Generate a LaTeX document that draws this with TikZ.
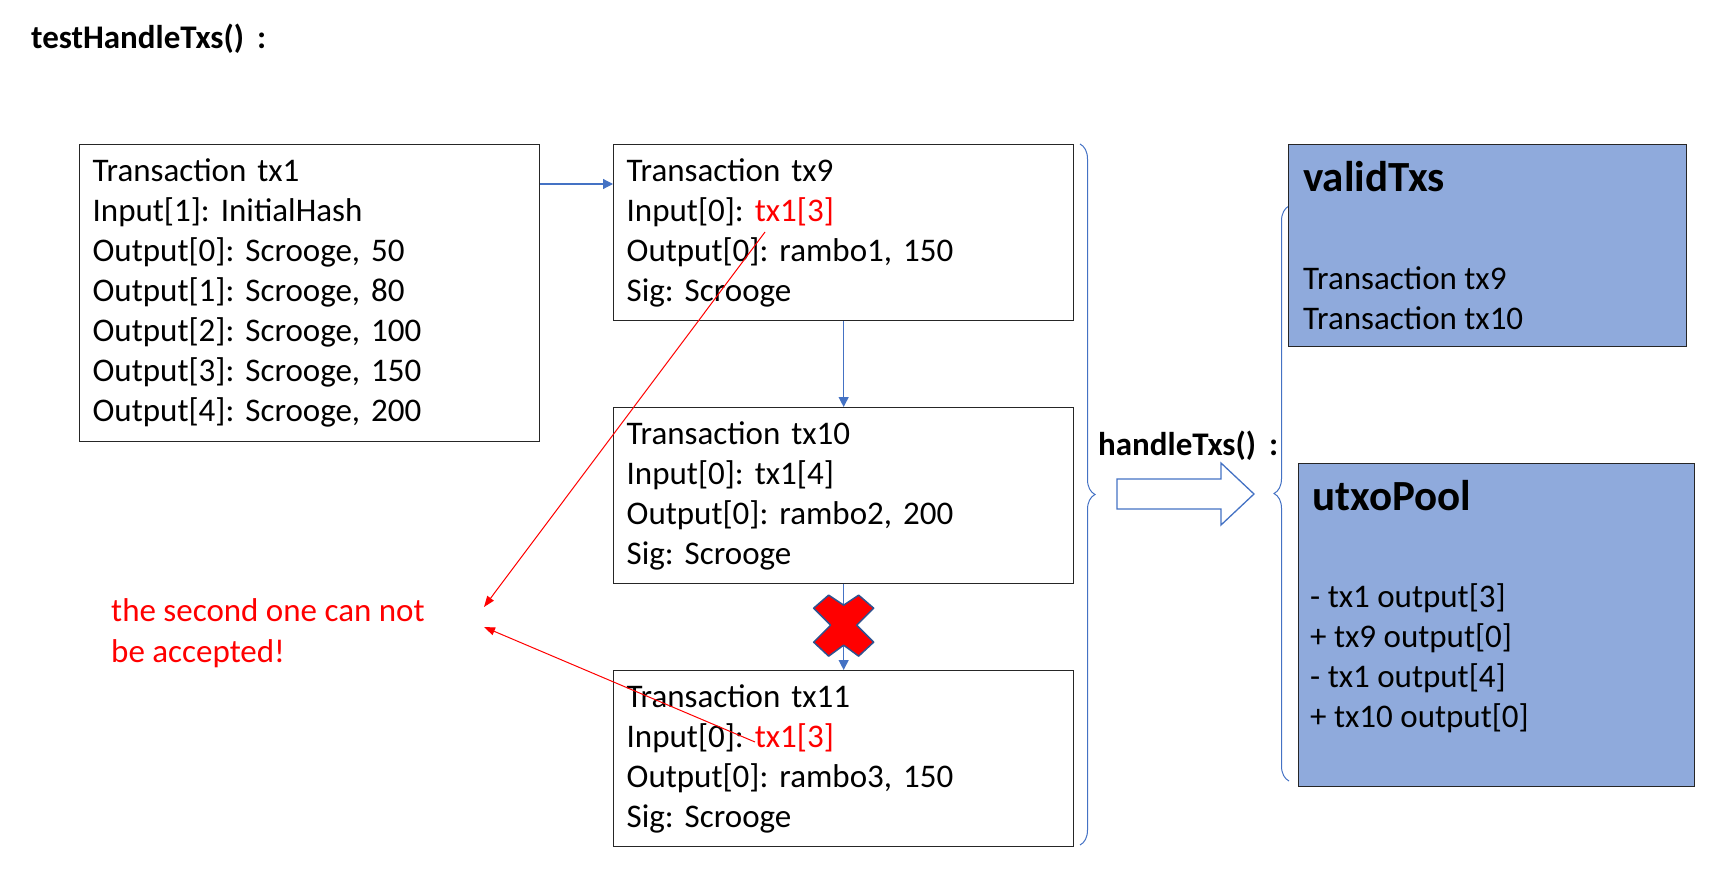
\documentclass[tikz,border=0pt]{standalone}
\usepackage{fontspec}
\setmainfont{Carlito}
\usetikzlibrary{arrows.meta, calc, decorations.pathreplacing}
\definecolor{linkblue}{HTML}{4472C4}
\definecolor{poolblue}{HTML}{8FAADC}
\definecolor{xedge}{HTML}{2F528F}
\definecolor{alert}{HTML}{FF0000}
\tikzset{
  txbox/.style={draw=black!85, line width=1.3pt, fill=white, anchor=north west, align=left,
    minimum width=460pt, text width=434pt, inner xsep=13pt, inner ysep=0pt,
    font=\fontsize{33}{40}\selectfont\frenchspacing},
  setbox/.style={draw=black!85, line width=1.3pt, fill=poolblue, anchor=north west, inner sep=0pt},
  flow/.style={-{Triangle[length=10pt,width=10pt]}, line width=1.2pt, color=linkblue},
  clash/.style={-{Triangle[length=11pt,width=8pt]}, line width=1pt, color=alert},
  group/.style={decorate, decoration={brace, amplitude=15pt}, line width=1pt, color=linkblue},
  heading/.style={font=\bfseries\fontsize{33}{40}\selectfont, anchor=base west, inner sep=0pt},
  settitle/.style={font=\bfseries\fontsize{43}{50}\selectfont, anchor=base west, inner sep=0pt},
  setitems/.style={font=\fontsize{33}{40}\selectfont\frenchspacing, anchor=north west, align=left, inner sep=0pt},
  xmark/.style={fill=alert, draw=xedge, line width=1.5pt, line join=round}
}

\begin{document}
\begin{tikzpicture}[x=1pt, y=-1pt]
\useasboundingbox (0,0) rectangle (1722,880);
\node[heading] (title) at (31,49) {testHandleTxs() \,:};

\node[txbox, minimum height=297pt] (tx1) at (79,144) {Transaction tx1\\Input[1]: InitialHash\\Output[0]: Scrooge, 50\\Output[1]: Scrooge, 80\\Output[2]: Scrooge, 100\\Output[3]: Scrooge, 150\\Output[4]: Scrooge, 200};
\node[txbox, minimum height=176pt] (tx9) at (613,144) {Transaction tx9\\Input[0]: \textcolor{alert}{tx1[3]}\\Output[0]: rambo1, 150\\Sig: Scrooge};
\node[txbox, minimum height=176pt] (tx10) at (613,407) {Transaction tx10\\Input[0]: tx1[4]\\Output[0]: rambo2, 200\\Sig: Scrooge};
\node[txbox, minimum height=176pt] (tx11) at (613,670) {Transaction tx11\\Input[0]: \textcolor{alert}{tx1[3]}\\Output[0]: rambo3, 150\\Sig: Scrooge};

\draw[flow] ([yshift=-40pt]tx1.north east) -- ([yshift=-40pt]tx9.north west);
\draw[flow] (tx9.south) -- (tx10.north);
\draw[flow] (tx10.south) -- (tx11.north);
\coordinate (cut) at ($(tx10.south)!0.5!(tx11.north)$);
\draw[xmark, shift={(cut)}] (-15,-32) -- (0,-22) -- (15,-32) -- (30,-19) -- (13,-2) -- (30,15)
  -- (15,29) -- (0,18) -- (-15,29) -- (-30,15) -- (-13,-2) -- (-30,-19) -- cycle;

\node[setitems, text=alert, font=\fontsize{33}{41}\selectfont] (note) at (111,598) {the second one can not\\be accepted!};
\coordinate (dup9) at ($(tx9.north west)+(152,88)$);
\coordinate (dup11) at ($(tx11.north west)+(142,72)$);
\coordinate (noteA) at (484,607);
\coordinate (noteB) at (484,627);
\draw[clash] (dup9) -- (noteA);
\draw[clash] (dup11) -- (noteB);

\draw[group] (1080,144) -- (1080,845);
\node[heading] (handle) at (1098,455) {handleTxs() \,:};
\draw[line width=1.3pt, draw=linkblue, fill=white] (1117,479) -- (1221,479) -- (1221,463) -- (1254,494)
  -- (1221,525) -- (1221,509) -- (1117,509) -- cycle;
\draw[group] (1289,781) -- (1289,206);

\node[setbox, minimum width=398pt, minimum height=202pt] (valid) at (1288,144) {};
\node[settitle] (validT) at (1303,192) {validTxs};
\node[setitems] (validL) at (1303,266) {Transaction tx9\\Transaction tx10};

\node[setbox, minimum width=396pt, minimum height=323pt] (pool) at (1298,463) {};
\node[settitle] (poolT) at (1312,510) {utxoPool};
\node[setitems] (poolL) at (1310,583) {- tx1 output[3]\\+ tx9 output[0]\\- tx1 output[4]\\+ tx10 output[0]};
\end{tikzpicture}
\end{document}
